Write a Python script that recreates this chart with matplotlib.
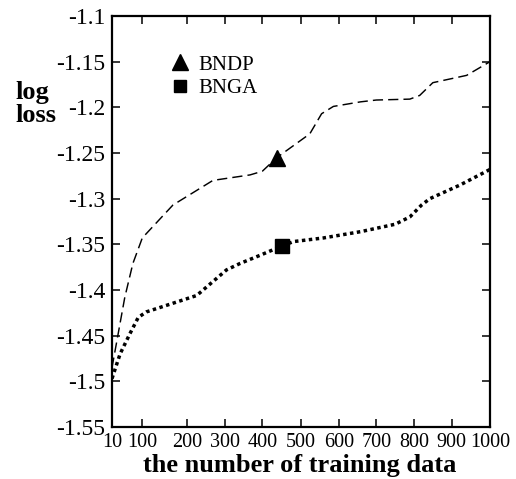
import numpy as np
import matplotlib
matplotlib.use("Agg")
import matplotlib.pyplot as plt
from matplotlib.lines import Line2D

plt.rcParams['font.family'] = ['Liberation Serif', 'DejaVu Serif']
plt.rcParams['axes.unicode_minus'] = False

# BNDP (dashed) - log loss vs number of training data
bndp_n = [10, 48, 72, 100, 168, 268, 367, 400, 438, 524, 555, 586,
          658, 700, 789, 815, 850, 939, 1000]
bndp_loss = [-1.485, -1.408, -1.371, -1.343, -1.307, -1.280, -1.274, -1.270,
             -1.255, -1.229, -1.207, -1.199, -1.194, -1.192, -1.191, -1.187,
             -1.173, -1.165, -1.150]

# BNGA (dotted)
bnga_n = [10, 34, 63, 88, 109, 225, 304, 340, 394, 450, 481, 560, 660,
          750, 789, 820, 842, 922, 1000]
bnga_loss = [-1.497, -1.470, -1.448, -1.430, -1.424, -1.406, -1.378, -1.371,
             -1.362, -1.352, -1.347, -1.343, -1.336, -1.328, -1.320, -1.307,
             -1.300, -1.285, -1.268]

# one marker per series
bndp_mark = (438, -1.255)
bnga_mark = (450, -1.352)

xticks = [10, 100, 200, 300, 400, 500, 600, 700, 800, 900, 1000]
yticks = [-1.1, -1.15, -1.2, -1.25, -1.3, -1.35, -1.4, -1.45, -1.5, -1.55]
ytick_labels = ['-1.1', '-1.15', '-1.2', '-1.25', '-1.3', '-1.35', '-1.4',
                '-1.45', '-1.5', '-1.55']

# the original x axis is not evenly spaced below 200
axis_breaks = [0, 30.3, 75.3, 113, 150.3, 188.7, 226.7, 264.3, 302, 339.7, 378]


def fwd(x):
    return np.interp(x, xticks, axis_breaks)


def inv(p):
    return np.interp(p, axis_breaks, xticks)


fig = plt.figure(figsize=(5.16, 4.79), dpi=100)
ax = fig.add_axes([112 / 516, 52 / 479, 378 / 516, 411 / 479])
ax.set_xscale('function', functions=(fwd, inv))

ax.plot(bndp_n, bndp_loss, color='k', lw=1.05, ls=(0, (7, 3.5)))
ax.plot(bnga_n, bnga_loss, color='k', lw=2.5, ls=(0, (1, 1)))
ax.plot(*bndp_mark, marker='^', color='k', ms=12, ls='none')
ax.plot(*bnga_mark, marker='s', color='k', ms=10, ls='none')

ax.set_xlim(10, 1000)
ax.set_ylim(-1.55, -1.1)
ax.set_xticks(xticks)
ax.set_xticklabels([str(v) for v in xticks], fontsize=14.5)
ax.set_yticks(yticks)
ax.set_yticklabels(ytick_labels, fontsize=17)
ax.minorticks_off()
ax.tick_params(direction='in', length=6, width=1.1, top=True, right=True)
ax.tick_params(axis='x', pad=4)
ax.tick_params(axis='y', pad=5)
for s in ax.spines.values():
    s.set_linewidth(1.6)

ax.set_xlabel('the number of training data', fontsize=19, fontweight='bold')
ax.xaxis.set_label_coords(0.497, -0.0925)
ax.xaxis.label.set_va('center')
ax.set_ylabel('log\nloss', fontsize=19, fontweight='bold', rotation=0,
              ha='left', va='center', linespacing=1.0)
ax.yaxis.set_label_coords(-0.2566, 0.785)

handles = [Line2D([], [], marker='^', color='k', ls='none', ms=11),
           Line2D([], [], marker='s', color='k', ls='none', ms=9)]
ax.legend(handles, ['BNDP', 'BNGA'], loc='upper left',
          bbox_to_anchor=(0.153, 0.905), frameon=False, fontsize=15,
          borderpad=0, handlelength=1.0, handletextpad=0.35,
          labelspacing=0.2, borderaxespad=0)

fig.savefig('out.png', dpi=100)
